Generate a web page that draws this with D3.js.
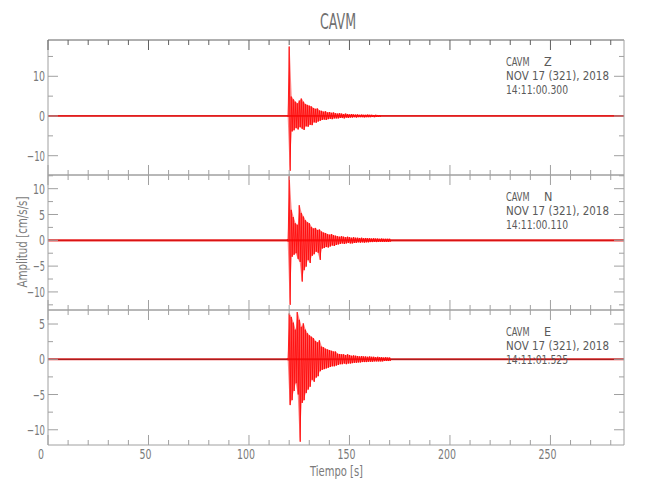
<!DOCTYPE html>
<html><head><meta charset="utf-8">
<script src="https://cdn.jsdelivr.net/npm/d3@7"></script>
<style>body{margin:0;background:#fff} svg{display:block}</style>
</head><body>
<script>
// ---------------- data ----------------
const titleText = "CAVM";
const station = "CAVM";
const channels = ["Z", "N", "E"];
const dateLabel = "NOV 17 (321), 2018";
const startTimes = ["14:11:00.300", "14:11:00.110", "14:11:01.525"];
const xLabel = "Tiempo  [s]";
const yLabel = "Amplitud  [cm/s/s]";
const xDomain = [0, 286.6];
const xMajorTicks = [0, 50, 100, 150, 200, 250];
const xMinorStep = 10;

const yDomainZ = [-14.86, 19.14];
const yDomainN = [-13.5, 12.65];
const yDomainE = [-12.16, 6.99];
const yTicksZ = [-10, 0, 10];
const yTicksN = [-10, -5, 0, 5, 10];
const yTicksE = [-10, -5, 0, 5];
const yMinorStep = [5, 2.5, 2.5];

// background noise level of each trace (cm/s/s)
const noiseLevel = [0.22, 0.22, 0.14];
// envelope read per second, starting at t = 119 s
const traceStart = 119;
const zUpper = [0.2, 17.5, 4.9, 4.2, 3.6, 3.2, 3.9, 4.4, 3.6, 3.0, 2.8, 2.6, 2.4, 2.0, 1.8, 1.9, 1.4, 1.3, 1.1, 1.2, 0.9, 1.0, 0.8, 0.9, 0.7, 0.6, 0.7, 0.6, 0.5, 0.6, 0.5, 0.4, 0.5, 0.4, 0.35, 0.4, 0.3, 0.35, 0.3, 0.3, 0.35, 0.3, 0.3, 0.25, 0.3, 0.25, 0.25];
const zLower = [-0.2, -13.8, -3.9, -3.6, -3.0, -3.4, -2.8, -3.2, -3.5, -2.6, -2.7, -2.2, -2.3, -1.6, -1.7, -1.4, -1.2, -1.0, -0.9, -1.0, -0.8, -0.7, -0.8, -0.6, -0.6, -0.6, -0.5, -0.5, -0.6, -0.4, -0.5, -0.4, -0.4, -0.3, -0.4, -0.3, -0.3, -0.3, -0.35, -0.3, -0.3, -0.3, -0.25, -0.3, -0.25, -0.25, -0.25];
const nUpper = [0.25, 12.4, 5.9, 4.5, 3.3, 3.0, 6.8, 5.3, 4.6, 3.9, 3.5, 3.3, 2.6, 2.3, 2.4, 2.0, 2.1, 1.7, 1.5, 1.4, 1.2, 1.1, 1.2, 1.0, 0.9, 0.8, 0.7, 0.8, 0.7, 0.6, 0.7, 0.6, 0.5, 0.6, 0.5, 0.5, 0.45, 0.5, 0.4, 0.45, 0.4, 0.4, 0.35, 0.4, 0.35, 0.35, 0.3, 0.35, 0.3, 0.3, 0.3, 0.3];
const nLower = [-0.25, -12.5, -3.2, -2.8, -2.5, -3.6, -4.2, -8.0, -5.8, -5.1, -3.8, -4.4, -3.0, -2.7, -2.2, -2.4, -3.8, -1.6, -1.5, -1.3, -1.4, -1.2, -1.0, -1.1, -0.9, -0.8, -0.7, -0.6, -0.7, -0.6, -0.5, -0.6, -0.6, -0.5, -0.5, -0.4, -0.45, -0.4, -0.45, -0.4, -0.4, -0.35, -0.35, -0.3, -0.35, -0.3, -0.3, -0.3, -0.3, -0.3, -0.3, -0.3];
const eUpper = [0.15, 6.5, 6.0, 5.2, 4.2, 6.7, 5.6, 4.6, 5.1, 4.2, 3.7, 3.4, 3.2, 3.0, 2.6, 2.4, 2.7, 1.8, 1.7, 1.5, 1.4, 1.3, 1.2, 1.1, 1.1, 0.8, 0.75, 0.7, 0.7, 0.6, 0.7, 0.6, 0.5, 0.55, 0.5, 0.45, 0.4, 0.45, 0.4, 0.4, 0.35, 0.4, 0.35, 0.35, 0.3, 0.35, 0.3, 0.3, 0.25, 0.3, 0.25, 0.25];
const eLower = [-0.15, -6.5, -5.8, -4.5, -3.4, -5.0, -11.7, -6.2, -5.8, -4.8, -4.3, -3.9, -2.9, -3.2, -2.6, -2.4, -1.7, -1.5, -1.4, -1.3, -1.2, -1.1, -1.0, -1.0, -0.9, -0.8, -0.7, -0.7, -0.6, -0.7, -0.6, -0.6, -0.55, -0.5, -0.5, -0.45, -0.45, -0.4, -0.4, -0.4, -0.35, -0.35, -0.35, -0.3, -0.3, -0.3, -0.3, -0.3, -0.25, -0.25, -0.25, -0.25];

// ---------------- drawing ----------------
const W = 650, H = 500;
const FONT = "'Liberation Sans Narrow','Arial Narrow','DejaVu Sans Condensed',sans-serif";
const axisColor = "#a0a0a0", textColor = "#7a7a7a";
const svg = d3.select("body").append("svg").attr("width", W).attr("height", H);

const left = 48, right = 624;
const panelTops = [40, 175, 310], panelBottoms = [175, 310, 445];
const x = d3.scaleLinear().domain(xDomain).range([left, right]);

const panels = [
  {dom: yDomainZ, ticks: yTicksZ, up: zUpper, lo: zLower},
  {dom: yDomainN, ticks: yTicksN, up: nUpper, lo: nLower},
  {dom: yDomainE, ticks: yTicksE, up: eUpper, lo: eLower}
];

const fmt = v => (v < 0 ? "\u2212" + Math.abs(v) : String(v));

panels.forEach((p, k) => {
  const y = d3.scaleLinear().domain(p.dom).range([panelBottoms[k], panelTops[k]]);
  const g = svg.append("g");
  const clipId = "clip" + k;
  svg.append("clipPath").attr("id", clipId).append("rect")
    .attr("x", left).attr("y", panelTops[k]).attr("width", right - left).attr("height", panelBottoms[k] - panelTops[k]);

  const tg = g.append("g").attr("clip-path", `url(#${clipId})`);
  // background noise band
  const band = d3.area().x(d => x(d)).y0(y(-noiseLevel[k])).y1(y(noiseLevel[k]));
  tg.append("path").datum(xDomain).attr("d", band).attr("fill", "#ee1111").attr("opacity", 0.85);
  tg.append("line").attr("x1", x(xDomain[0])).attr("x2", x(xDomain[1])).attr("y1", y(0)).attr("y2", y(0))
    .attr("stroke", k === 2 ? "#7a1010" : "#cc0000").attr("stroke-width", 0.8);

  // envelope fill
  const n = Math.min(p.up.length, p.lo.length);
  const env = d3.range(n).map(i => ({t: traceStart + i + 0.25, up: p.up[i], lo: p.lo[i]}));
  const area = d3.area().x(d => x(d.t)).y0(d => y(d.lo)).y1(d => y(d.up));
  tg.append("path").datum(env).attr("d", area).attr("fill", "#ff3030").attr("opacity", 0.6);

  // zigzag strands between envelope extremes
  const pts = [];
  for (let i = 0; i < n; i++) {
    pts.push([traceStart + i, p.up[i]]);
    pts.push([traceStart + i + 0.5, p.lo[i]]);
  }
  const line = d3.line().x(d => x(d[0])).y(d => y(d[1]));
  tg.append("path").datum(pts).attr("d", line).attr("fill", "none")
    .attr("stroke", "#ff0000").attr("stroke-width", 0.9).attr("stroke-opacity", 0.9);

  // frame
  const y0 = panelBottoms[k], y1 = panelTops[k];
  g.append("line").attr("x1", left).attr("x2", right).attr("y1", y0).attr("y2", y0).attr("stroke", axisColor);
  g.append("line").attr("x1", left).attr("x2", right).attr("y1", y1).attr("y2", y1).attr("stroke", k === 0 ? "#606060" : axisColor);
  g.append("line").attr("x1", left).attr("x2", left).attr("y1", y1).attr("y2", y0).attr("stroke", axisColor);
  g.append("line").attr("x1", right).attr("x2", right).attr("y1", y1).attr("y2", y0).attr("stroke", axisColor);

  // x ticks (bottom & top, inward)
  d3.range(xDomain[0], xDomain[1], xMinorStep).forEach(t => {
    const len = xMajorTicks.includes(t) ? 10 : 5;
    g.append("line").attr("x1", x(t)).attr("x2", x(t)).attr("y1", y0).attr("y2", y0 - len).attr("stroke", axisColor);
    g.append("line").attr("x1", x(t)).attr("x2", x(t)).attr("y1", y1).attr("y2", y1 + len)
      .attr("stroke", k === 0 ? "#606060" : axisColor);
  });
  // y ticks (left & right, inward)
  const step = yMinorStep[k];
  d3.range(Math.ceil(p.dom[0] / step) * step, p.dom[1], step).forEach(v => {
    const len = p.ticks.includes(v) ? 10 : 5;
    g.append("line").attr("x1", left).attr("x2", left + len).attr("y1", y(v)).attr("y2", y(v)).attr("stroke", axisColor);
    g.append("line").attr("x1", right).attr("x2", right - len).attr("y1", y(v)).attr("y2", y(v)).attr("stroke", axisColor);
  });
  // y tick labels
  p.ticks.forEach(v => {
    const s = fmt(v);
    g.append("text").attr("x", left - 3).attr("y", y(v)).attr("dy", "0.36em")
      .attr("text-anchor", "end").attr("font-family", FONT).attr("font-size", 14)
      .attr("textLength", s.length * 6).attr("lengthAdjust", "spacingAndGlyphs")
      .attr("fill", textColor).text(s);
  });

  // annotation
  const ax = 506;
  const ann = g.append("g").attr("font-family", FONT).attr("font-size", 12.5).attr("fill", "#5a5a5a");
  ann.append("text").attr("x", ax).attr("y", y1 + 26).attr("textLength", 23.5).attr("lengthAdjust", "spacingAndGlyphs").text(station);
  ann.append("text").attr("x", ax + 38).attr("y", y1 + 26).text(channels[k]);
  ann.append("text").attr("x", ax).attr("y", y1 + 40).attr("textLength", 103).attr("lengthAdjust", "spacingAndGlyphs").text(dateLabel);
  ann.append("text").attr("x", ax).attr("y", y1 + 54).attr("textLength", 62).attr("lengthAdjust", "spacingAndGlyphs").text(startTimes[k]);
});

// x tick labels (bottom panel only)
xMajorTicks.forEach(t => {
  const s = String(t);
  svg.append("text").attr("x", x(t) - (t === 0 ? 7 : 3) - s.length * 3).attr("y", 459)
    .attr("textLength", s.length * 6).attr("lengthAdjust", "spacingAndGlyphs")
    .attr("font-family", FONT).attr("font-size", 14).attr("fill", textColor).text(s);
});

// title & axis labels
svg.append("text").attr("x", 338 - 18).attr("y", 29).attr("textLength", 36).attr("lengthAdjust", "spacingAndGlyphs")
  .attr("font-family", FONT).attr("font-size", 21).attr("fill", "#707070").text(titleText);
svg.append("text").attr("x", (left + right) / 2 - 26).attr("y", 476).attr("textLength", 53).attr("lengthAdjust", "spacingAndGlyphs")
  .attr("font-family", FONT).attr("font-size", 13.5).attr("fill", textColor).text(xLabel);
svg.append("text").attr("transform", "translate(27,242) rotate(-90)").attr("x", -45.5).attr("y", 0)
  .attr("textLength", 91).attr("lengthAdjust", "spacingAndGlyphs")
  .attr("font-family", FONT).attr("font-size", 13.5).attr("fill", textColor).text(yLabel);
</script>
</body></html>
